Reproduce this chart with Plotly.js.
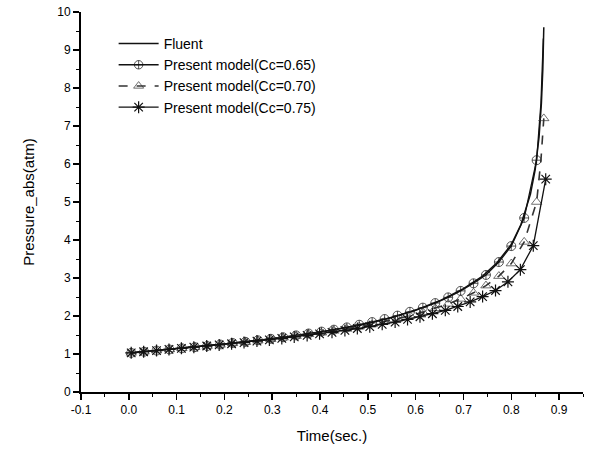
<!DOCTYPE html>
<html><head><meta charset="utf-8">
<script src="https://cdn.plot.ly/plotly-3.0.1.min.js"></script>
<style>body{margin:0;background:#fff}#chart{width:590px;height:450px}</style>
</head><body><div id="chart"></div>
<script>
// Fluent
const fluentT = [0.005,0.05,0.1,0.15,0.2,0.25,0.3,0.35,0.4,0.45,0.5,0.55,0.6,0.65,0.7,0.74,0.77,0.8,0.82,0.84,0.85,0.858,0.863,0.866,0.868];
const fluentP = [1.03,1.08,1.14,1.19,1.26,1.33,1.40,1.48,1.57,1.68,1.80,1.96,2.15,2.40,2.72,3.05,3.40,3.88,4.40,5.20,5.85,6.7,7.6,8.5,9.6];
// Present model Cc=0.65
const c65T = [0.005,0.032,0.058,0.085,0.111,0.138,0.164,0.191,0.217,0.244,0.270,0.297,0.323,0.350,0.376,0.403,0.429,0.456,0.482,0.509,0.535,0.562,0.588,0.615,0.641,0.668,0.694,0.721,0.747,0.774,0.800,0.827,0.853,0.862,0.867];
const c65P = [1.03,1.06,1.09,1.12,1.15,1.18,1.21,1.25,1.29,1.32,1.36,1.40,1.44,1.49,1.54,1.59,1.64,1.70,1.77,1.84,1.92,2.01,2.11,2.22,2.34,2.49,2.66,2.86,3.08,3.42,3.84,4.58,6.10,7.6,9.3];
const c65Mark = [1,1,1,1,1,1,1,1,1,1,1,1,1,1,1,1,1,1,1,1,1,1,1,1,1,1,1,1,1,1,1,1,1,0,0];
// Present model Cc=0.70
const c70T = [0.005,0.032,0.058,0.085,0.111,0.138,0.164,0.191,0.217,0.244,0.270,0.297,0.323,0.350,0.376,0.403,0.429,0.456,0.482,0.509,0.535,0.562,0.588,0.615,0.641,0.668,0.694,0.721,0.747,0.774,0.800,0.827,0.853,0.862,0.868];
const c70P = [1.03,1.06,1.09,1.12,1.15,1.18,1.21,1.24,1.28,1.31,1.35,1.39,1.43,1.47,1.52,1.56,1.61,1.66,1.72,1.78,1.85,1.93,2.01,2.10,2.20,2.32,2.45,2.61,2.80,3.05,3.38,3.95,5.00,6.1,7.2];
const c70Mark = [1,1,1,1,1,1,1,1,1,1,1,1,1,1,1,1,1,1,1,1,1,1,1,1,1,1,1,1,1,1,1,1,1,0,1];
// Present model Cc=0.75
const c75T = [0.005,0.031,0.058,0.084,0.110,0.136,0.163,0.189,0.215,0.241,0.268,0.294,0.320,0.346,0.373,0.399,0.425,0.452,0.478,0.504,0.530,0.557,0.583,0.609,0.635,0.662,0.688,0.714,0.740,0.767,0.793,0.819,0.846,0.872];
const c75P = [1.03,1.06,1.09,1.12,1.15,1.18,1.21,1.24,1.27,1.30,1.34,1.37,1.41,1.45,1.49,1.53,1.57,1.62,1.67,1.72,1.78,1.84,1.91,1.98,2.06,2.15,2.25,2.37,2.51,2.67,2.90,3.22,3.85,5.60];

const names = ['Fluent','Present model(Cc=0.65)','Present model(Cc=0.70)','Present model(Cc=0.75)'];
const MS = 9;
const traces = [
  {x: fluentT, y: fluentP, name: names[0], mode: 'lines', line: {color: '#111', width: 1.5}},
  {x: c65T, y: c65P, name: names[1], mode: 'lines+markers', line: {color: '#111', width: 1.3},
   marker: {symbol: 'circle-cross-open', size: c65Mark.map(m => m ? MS : 0), color: '#111', line: {width: 1}}},
  {x: c70T, y: c70P, name: names[2], mode: 'lines+markers', line: {color: '#333', width: 1.6, dash: 'dash'},
   marker: {symbol: 'triangle-up-open', size: c70Mark.map(m => m ? MS : 0), color: '#333', line: {width: 1}}},
  {x: c75T, y: c75P, name: names[3], mode: 'lines+markers', line: {color: '#111', width: 1.3},
   marker: {symbol: 'asterisk-open', size: MS + 1, color: '#111', line: {width: 1.2}}}
];

const font = {family: 'Liberation Sans, Arial, sans-serif', color: '#000'};
const layout = {
  width: 590, height: 450,
  margin: {l: 81, r: 7, t: 12, b: 58},
  paper_bgcolor: '#fff', plot_bgcolor: '#fff',
  font: Object.assign({size: 12}, font),
  showlegend: true,
  legend: {x: 0.065, y: 0.958, xanchor: 'left', yanchor: 'top', bgcolor: 'rgba(0,0,0,0)',
           font: Object.assign({size: 14}, font), tracegroupgap: 0, itemwidth: 40},
  xaxis: {
    range: [-0.1, 0.95], tickmode: 'array',
    tickvals: [-0.1,0,0.1,0.2,0.3,0.4,0.5,0.6,0.7,0.8,0.9],
    ticktext: ['-0.1','0.0','0.1','0.2','0.3','0.4','0.5','0.6','0.7','0.8','0.9'],
    ticks: 'outside', ticklen: 6, tickwidth: 1.5, tickcolor: '#000',
    minor: {dtick: 0.05, tick0: 0, ticks: 'outside', ticklen: 3, tickwidth: 1, tickcolor: '#000'},
    showline: true, linecolor: '#000', linewidth: 2, showgrid: false, zeroline: false,
    tickfont: Object.assign({size: 12}, font),
    title: {text: 'Time(sec.)', font: Object.assign({size: 15}, font), standoff: 14}
  },
  yaxis: {
    range: [0, 10], dtick: 1, tick0: 0,
    ticks: 'outside', ticklen: 6, tickwidth: 1.5, tickcolor: '#000',
    minor: {dtick: 0.5, ticks: 'outside', ticklen: 3, tickwidth: 1, tickcolor: '#000'},
    showline: true, linecolor: '#000', linewidth: 2, showgrid: false, zeroline: false,
    tickfont: Object.assign({size: 12}, font),
    title: {text: 'Pressure_abs(atm)', font: Object.assign({size: 15}, font), standoff: 19}
  }
};
Plotly.newPlot('chart', traces, layout, {displayModeBar: false, staticPlot: true});
</script>
</body></html>
